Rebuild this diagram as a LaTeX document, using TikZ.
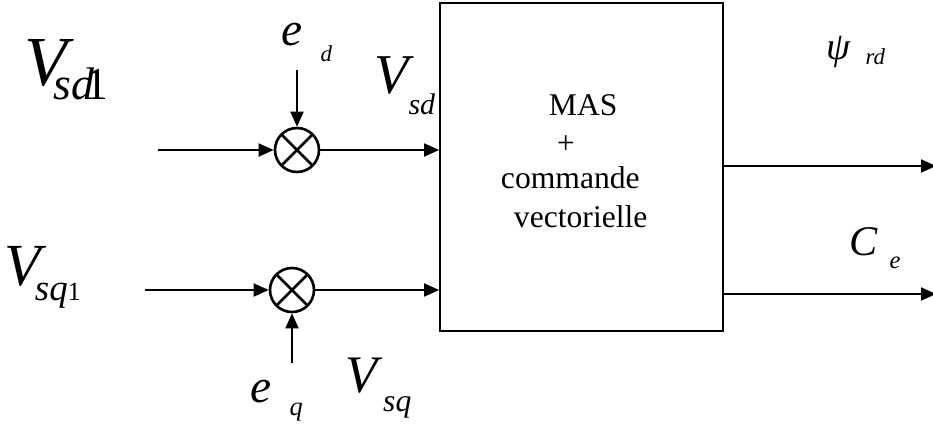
\documentclass[tikz,border=0pt]{standalone}
\usepackage{fontspec}
\setmainfont{Liberation Serif}
\usetikzlibrary{arrows.meta}
\newcommand{\sig}[6]{{\fontsize{#1}{#1}\selectfont\textit{#2}}\kern#3\raisebox{-#4}{\fontsize{#5}{#5}\selectfont\textit{#6}}}
\begin{document}
\begin{tikzpicture}[x=0.02cm,y=-0.02cm,>={Triangle[length=3mm,width=2.6mm]},line width=1.1pt,
	mult/.style={circle,draw,line width=1.5pt,minimum size=0.88cm,inner sep=0pt,
		path picture={\draw[line width=1.5pt] (path picture bounding box.north west)--(path picture bounding box.south east)
			(path picture bounding box.south west)--(path picture bounding box.north east);}},
	bloc/.style={draw,minimum width=5.66cm,minimum height=6.56cm,inner sep=0pt},
	lbl/.style={anchor=base west,inner sep=0pt},
	txt/.style={anchor=base west,inner sep=0pt,font=\fontsize{18pt}{18pt}\selectfont}]
	\useasboundingbox (0,0) rectangle (933,423);
	% bloc MAS
	\node[bloc] (mas) at (581.5,167) {};
	\node[txt] (t1) at (548,115) {MAS};
	\node[txt] (t2) at (556,153) {+};
	\node[txt] (t3) at (500,188) {commande};
	\node[txt] (t4) at (513,227) {vectorielle};
	% multiplicateurs
	\node[mult] (m1) at (297,150) {};
	\node[mult] (m2) at (292,290) {};
	\coordinate (in1) at (158,150);
	\coordinate (in2) at (145,290);
	\coordinate (ed) at (297,70);
	\coordinate (eq) at (292,363);
	\coordinate (o1) at (936,166);
	\coordinate (o2) at (936,294);
	\draw[->] (in1) -- (m1);
	\draw[->] (m1) -- (m1 -| mas.west);
	\draw[->] (ed) -- (m1);
	\draw[->] (in2) -- (m2);
	\draw[->] (m2) -- (m2 -| mas.west);
	\draw[->] (eq) -- (m2);
	\draw[->] (o1 -| mas.east) -- (o1);
	\draw[->] (o2 -| mas.east) -- (o2);
	% etiquettes
	\node[lbl] (vsd1) at (24,85) {\sig{40pt}{V}{-12pt}{8.5pt}{26pt}{sd\kern-5pt\textup{1}}};
	\node[lbl] (vsq1) at (4,285) {\sig{34pt}{V}{-7pt}{9pt}{21pt}{sq\textup{\fontsize{15pt}{15pt}\selectfont 1}}};
	\node[lbl] (le) at (281,45) {\sig{27pt}{e}{10pt}{9.6pt}{13pt}{d}};
	\node[lbl] (lq) at (250,402) {\sig{27pt}{e}{10pt}{7.4pt}{15pt}{q}};
	\node[lbl] (vsd) at (374,93) {\sig{32pt}{V}{-3.5pt}{12.5pt}{17pt}{sd}};
	\node[lbl] (vsq) at (345,392) {\sig{30pt}{V}{0pt}{11.3pt}{18pt}{sq}};
	\node[lbl] (psi) at (826,59) {\sig{22pt}{ψ}{8pt}{3pt}{13pt}{rd}};
	\node[lbl] (ce) at (849,255) {\sig{24pt}{C}{6.4pt}{7.4pt}{14pt}{e}};
\end{tikzpicture}
\end{document}
